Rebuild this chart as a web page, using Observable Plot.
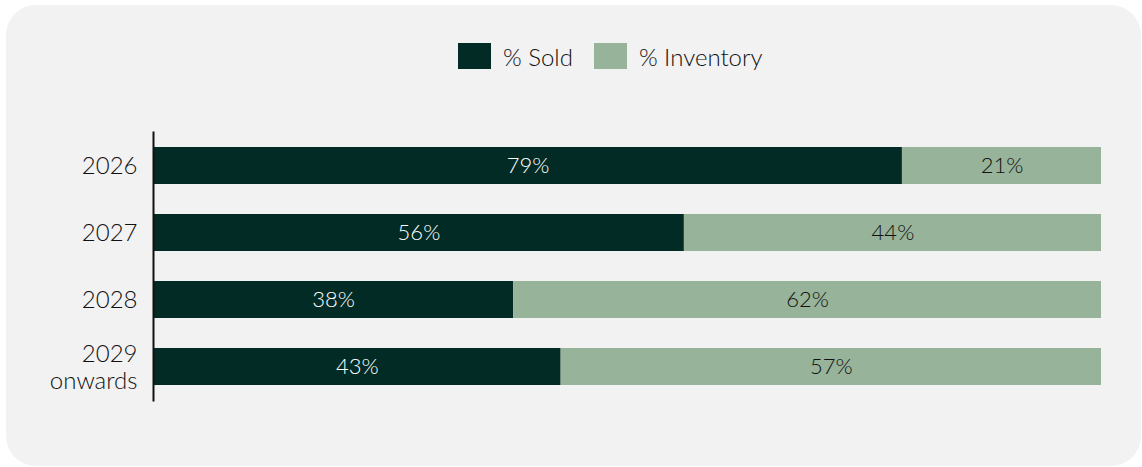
<!DOCTYPE html>
<html>
<head>
<meta charset="utf-8">
<script src="https://cdn.jsdelivr.net/npm/d3@7"></script>
<script src="https://cdn.jsdelivr.net/npm/@observablehq/plot@0.6"></script>
<style>
  html, body { margin: 0; padding: 0; background: #ffffff; width: 1142px; height: 467px; overflow: hidden; }
  #card { position: absolute; left: 6px; top: 5px; width: 1135px; height: 461px; background: #f2f2f2; border-radius: 30px; }
  #legend { position: absolute; left: 458px; top: 43px; display: flex; }
  #chart { position: absolute; left: 0; top: 0; }
  .lg { display: flex; align-items: center; font-family: Lato, sans-serif; font-weight: 300; font-size: 24px; color: #111111; margin-right: 21px; height: 26px; }
  .sw { width: 33px; height: 26px; margin-right: 12px; }
</style>
</head>
<body>
<div id="card"></div>
<div id="legend"></div>
<div id="chart"></div>
<script>
const years = ["2026", "2027", "2028", "2029\nonwards"];
const seriesNames = ["% Sold", "% Inventory"];
const sold = [79, 56, 38, 43];
const inventory = [21, 44, 62, 57];
const colors = ["#022b26", "#97b39a"];
const labelColors = ["#ffffff", "#111111"];

const data = [];
years.forEach((y, i) => {
  data.push({year: y, type: seriesNames[0], value: sold[i]});
  data.push({year: y, type: seriesNames[1], value: inventory[i]});
});

const legend = document.getElementById("legend");
seriesNames.forEach((n, i) => {
  const d = document.createElement("div");
  d.className = "lg";
  d.innerHTML = `<div class="sw" style="background:${colors[i]}"></div><span>${n}</span>`;
  legend.appendChild(d);
});

const chart = Plot.plot({
  width: 1142,
  height: 467,
  marginLeft: 153,
  marginRight: 41,
  marginTop: 132,
  marginBottom: 67,
  style: {background: "transparent", fontFamily: "Lato, sans-serif"},
  x: {domain: [0, 100], axis: null},
  y: {domain: years, paddingInner: 0.45, paddingOuter: 0.225, label: null},
  color: {domain: seriesNames, range: colors},
  marks: [
    Plot.barX(data, Plot.stackX({x: "value", y: "year", fill: "type", order: seriesNames})),
    Plot.text(data, Plot.stackX({
      x: "value", y: "year", z: "type", order: seriesNames,
      text: d => d.value + "%",
      fill: d => d.type === seriesNames[0] ? labelColors[0] : labelColors[1],
      fontSize: 22, fontWeight: 300
    })),
    Plot.axisY({tickSize: 0, tickPadding: 16, fontSize: 24, fontWeight: 300, lineHeight: 1.1, fill: "#111111", label: null}),
    Plot.frame({anchor: "left", stroke: "#111111", strokeWidth: 2})
  ]
});
document.getElementById("chart").appendChild(chart);
</script>
</body>
</html>
